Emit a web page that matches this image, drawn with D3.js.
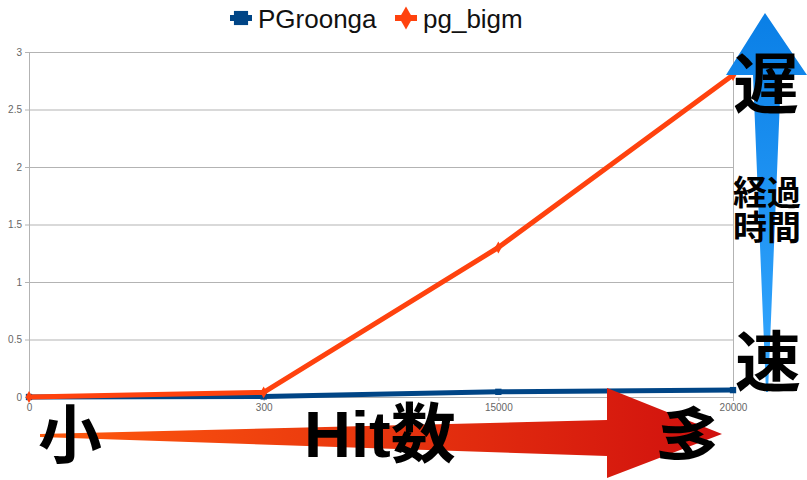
<!DOCTYPE html>
<html>
<head>
<meta charset="utf-8">
<script src="https://cdn.jsdelivr.net/npm/d3@7"></script>
<style>
  body { margin: 0; background: #fff; }
  svg { display: block; }
  .tick text { font-family: "Liberation Sans", Arial, sans-serif; font-size: 10px; fill: #666; }
  .big { font-family: "Noto Sans CJK JP", "Liberation Sans", sans-serif; font-weight: bold; fill: #000; }
</style>
</head>
<body>
<svg id="chart" width="807" height="480"></svg>
<script>
; (function () {

    // hit counts on the x axis (categories)
    var categories = ['0', '300', '15000', '20000']
    // elapsed time, seconds
    var pgroonga = [0, 0.005, 0.045, 0.06]
    var pgBigm = [0, 0.04, 1.3, 2.8]
    var yTicks = [0, 0.5, 1, 1.5, 2, 2.5, 3]

    var series = [
        { name: 'PGroonga', values: pgroonga, color: '#004586', marker: 'square' },
        { name: 'pg_bigm', values: pgBigm, color: '#ff420e', marker: 'diamond' }
    ]

    var svg = d3.select('#chart'),
        margin = { top: 52, right: 74, bottom: 83, left: 29 },
        width = +svg.attr('width') - margin.left - margin.right,
        height = +svg.attr('height') - margin.top - margin.bottom

    var x = d3.scalePoint().domain(categories).range([0, width])
    var y = d3.scaleLinear().domain([0, 3]).range([height, 0])

    var defs = svg.append('defs')
    var red = defs.append('linearGradient').attr('id', 'redGrad')
        .attr('x1', '0%').attr('x2', '100%').attr('y1', '0%').attr('y2', '0%')
    red.append('stop').attr('offset', '0%').attr('stop-color', '#ff5a0e')
    red.append('stop').attr('offset', '100%').attr('stop-color', '#d0100e')
    var blue = defs.append('linearGradient').attr('id', 'blueGrad')
        .attr('x1', '0%').attr('x2', '0%').attr('y1', '0%').attr('y2', '100%')
    blue.append('stop').attr('offset', '0%').attr('stop-color', '#0a7fe6')
    blue.append('stop').attr('offset', '100%').attr('stop-color', '#35a8ff')

    var g = svg.append('g').attr('transform', 'translate(' + margin.left + ',' + margin.top + ')')

    // grid
    g.append('g').selectAll('line').data(yTicks).enter().append('line')
        .attr('x1', 0).attr('x2', width)
        .attr('y1', function (d) { return y(d) + 0.5 }).attr('y2', function (d) { return y(d) + 0.5 })
        .attr('stroke', '#b3b3b3')

    g.append('line').attr('x1', width + 0.5).attr('x2', width + 0.5).attr('y1', 0).attr('y2', height)
        .attr('stroke', '#b3b3b3')

    g.append('g').call(d3.axisLeft(y).tickValues(yTicks).tickSize(4).tickPadding(3).tickFormat(d3.format('')))
    g.append('g').attr('transform', 'translate(0,' + height + ')')
        .call(d3.axisBottom(x).tickSize(4).tickPadding(3))
    svg.selectAll('.domain, .tick line').attr('stroke', '#b3b3b3')

    // the two big arrows
    var arrows = svg.append('g')
    arrows.append('path')
        .attr('d', 'M40,434 L40,437 L607,456 L607,478 L722,434 L607,388 L607,420 Z')
        .attr('fill', 'url(#redGrad)')
    arrows.append('path')
        .attr('d', 'M766,392 L768,392 L781,75 L807,75 L765,13 L726,75 L753,75 Z')
        .attr('fill', 'url(#blueGrad)')

    var line = d3.line()
        .x(function (d, i) { return x(categories[i]) })
        .y(function (d) { return y(d) })

    series.forEach(function (s) {
        g.append('path').datum(s.values)
            .attr('fill', 'none').attr('stroke', s.color).attr('stroke-width', 5)
            .attr('stroke-linejoin', 'round')
            .attr('d', line)
        g.selectAll(null).data(s.values).enter().append('path')
            .attr('transform', function (d, i) { return 'translate(' + x(categories[i]) + ',' + y(d) + ')' })
            .attr('d', d3.symbol().type(s.marker === 'square' ? d3.symbolSquare : d3.symbolDiamond).size(40))
            .attr('fill', s.color)
    })

    // legend
    var legend = svg.append('g').attr('font-family', '"Liberation Sans", Arial, sans-serif').attr('font-size', 26)
    var lx = [230, 395]
    series.forEach(function (s, i) {
        var lg = legend.append('g').attr('transform', 'translate(' + lx[i] + ',18)')
        lg.append('line').attr('x1', 0).attr('x2', 22).attr('stroke', s.color).attr('stroke-width', 6)
        lg.append('path').attr('transform', 'translate(11,0)')
            .attr('d', d3.symbol().type(s.marker === 'square' ? d3.symbolSquare : d3.symbolDiamond).size(s.marker === 'square' ? 200 : 150))
            .attr('fill', s.color)
        lg.append('text').attr('x', 28).attr('y', 9.5).attr('fill', '#111').text(s.name)
    })

    // annotations
    svg.append('text').attr('class', 'big').attr('x', 38).attr('y', 458).attr('font-size', 64).text('小')
    svg.append('text').attr('x', 304).attr('y', 457)
        .attr('font-family', '"Liberation Sans", Arial, sans-serif').attr('font-weight', 'bold')
        .attr('font-size', 65).attr('fill', '#000')
        .text('Hit').append('tspan').attr('class', 'big').text('数')
    svg.append('text').attr('class', 'big').attr('font-size', 64)
        .attr('transform', 'translate(688,437) rotate(18)')
        .attr('text-anchor', 'middle').attr('dy', '0.36em').text('多')
    svg.append('text').attr('class', 'big').attr('x', 733).attr('y', 108).attr('font-size', 66).text('遅')
    svg.append('text').attr('class', 'big').attr('x', 735).attr('y', 386).attr('font-size', 66).text('速')
    svg.append('text').attr('class', 'big').attr('x', 733).attr('y', 205).attr('font-size', 34).text('経過')
    svg.append('text').attr('class', 'big').attr('x', 733).attr('y', 240).attr('font-size', 34).text('時間')

})();
</script>
</body>
</html>
